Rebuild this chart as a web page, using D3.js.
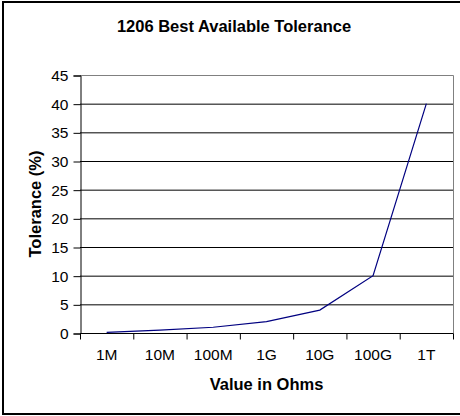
<!DOCTYPE html>
<html>
<head>
<meta charset="utf-8">
<script src="https://d3js.org/d3.v7.min.js"></script>
<style>
  body { margin: 0; background: #fff; }
  svg { display: block; font-family: "Liberation Sans", Arial, sans-serif; }
</style>
</head>
<body>
<svg id="chart" width="460" height="416"></svg>
<script>
// data
var categories = ["1M", "10M", "100M", "1G", "10G", "100G", "1T"];
var tolerance = [0.1, 0.5, 1, 2, 4, 10, 40];
var yTicks = [0, 5, 10, 15, 20, 25, 30, 35, 40, 45];

var svg = d3.select("#chart");

var plotLeft = 80, plotRight = 453, plotTop = 75, plotBottom = 333;

// outer frame (right edge falls off the picture)
svg.append("rect")
    .attr("x", 3).attr("y", 2)
    .attr("width", 470).attr("height", 412)
    .attr("fill", "none")
    .attr("stroke", "#000")
    .attr("stroke-width", 2);

var x = d3.scaleBand()
    .domain(categories)
    .range([plotLeft, plotRight])
    .padding(0);

var y = d3.scaleLinear()
    .domain([0, 45])
    .range([plotBottom, plotTop]);

// gridlines
svg.append("g")
    .selectAll("line")
    .data(yTicks.filter(d => d > 0 && d < 45))
    .enter().append("line")
    .attr("x1", plotLeft).attr("x2", plotRight)
    .attr("y1", d => y(d) + 0.5).attr("y2", d => y(d) + 0.5)
    .attr("stroke", "#000")
    .attr("stroke-width", 1);

// plot area border top / right
svg.append("path")
    .attr("d", "M" + plotLeft + "," + (y(45) + 0.5) + "H" + (plotRight + 0.5) + "V" + plotBottom)
    .attr("fill", "none")
    .attr("stroke", "#808080")
    .attr("stroke-width", 1);

// y axis
var yAxis = d3.axisLeft(y)
    .tickValues(yTicks)
    .tickSize(7)
    .tickPadding(5);

var gy = svg.append("g")
    .attr("transform", "translate(" + (plotLeft + 0.5) + ",0.5)")
    .call(yAxis);
gy.select(".domain").attr("stroke", "#000");
gy.selectAll("text").attr("font-size", "15.5px").attr("font-family", "Liberation Sans, Arial, sans-serif").attr("fill", "#000");

// x axis: ticks at category boundaries
var xAxis = d3.axisBottom(x)
    .tickSize(0)
    .tickPadding(15);

var gx = svg.append("g")
    .attr("transform", "translate(0," + (plotBottom + 0.5) + ")")
    .call(xAxis);
gx.select(".domain").attr("d", "M" + plotLeft + ",0H" + (plotRight + 0.5)).attr("stroke", "#000");
gx.selectAll("text").attr("font-size", "15.5px").attr("font-family", "Liberation Sans, Arial, sans-serif").attr("fill", "#000");

gx.selectAll(".bound")
    .data(categories.concat(["end"]))
    .enter().append("line")
    .attr("class", "bound")
    .attr("x1", (d, i) => (i < categories.length ? x(d) : plotRight) + 0.5)
    .attr("x2", (d, i) => (i < categories.length ? x(d) : plotRight) + 0.5)
    .attr("y1", 0).attr("y2", 6)
    .attr("stroke", "#000");

// series line
var line = d3.line()
    .x((d, i) => x(categories[i]) + x.bandwidth() / 2)
    .y(d => y(d));

svg.append("path")
    .datum(tolerance)
    .attr("d", line)
    .attr("fill", "none")
    .attr("stroke", "#000080")
    .attr("stroke-width", 1.2);

// titles
svg.append("text")
    .attr("x", 234).attr("y", 32)
    .attr("text-anchor", "middle")
    .attr("font-size", "16.5px")
    .attr("font-weight", "bold")
    .text("1206 Best Available Tolerance");

svg.append("text")
    .attr("x", (plotLeft + plotRight) / 2).attr("y", 390)
    .attr("text-anchor", "middle")
    .attr("font-size", "16.5px")
    .attr("font-weight", "bold")
    .text("Value in Ohms");

svg.append("text")
    .attr("transform", "translate(41," + ((plotTop + plotBottom) / 2) + ") rotate(-90)")
    .attr("text-anchor", "middle")
    .attr("font-size", "16.5px")
    .attr("font-weight", "bold")
    .text("Tolerance (%)");
</script>
</body>
</html>
